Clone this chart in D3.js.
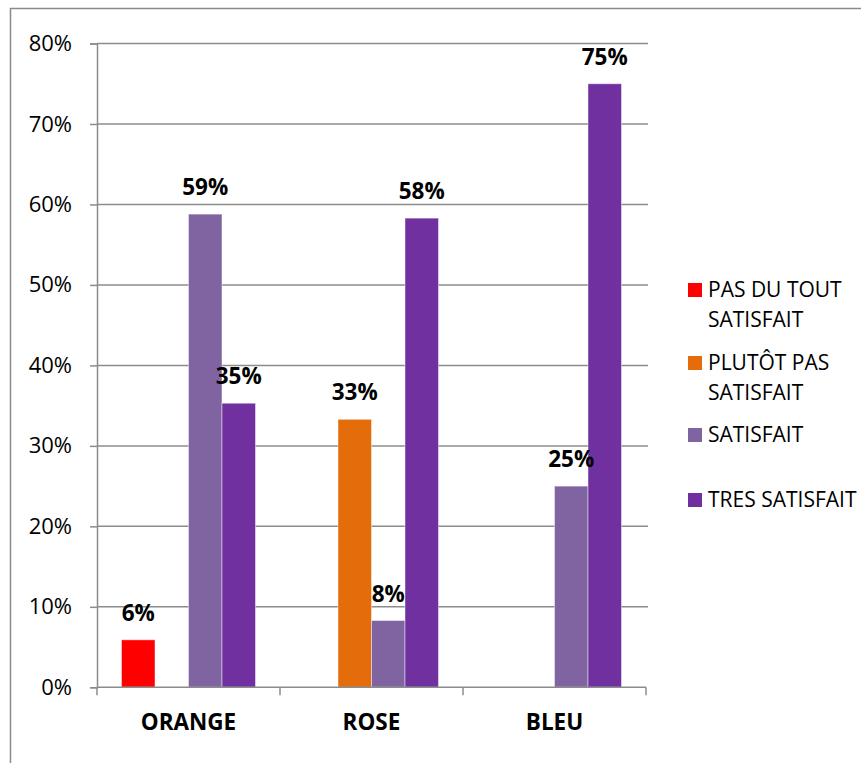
<!DOCTYPE html>
<html>
<head>
<meta charset="utf-8">
<script src="https://cdn.jsdelivr.net/npm/d3@7"></script>
<style>
  html, body { margin: 0; padding: 0; background: #ffffff; }
  svg { display: block; }
  text { font-family: "Open Sans", "DejaVu Sans", sans-serif; fill: #000; }
</style>
</head>
<body>
<svg id="chart" width="861" height="763"></svg>
<script>
// ---- data ----
const categories = ["ORANGE", "ROSE", "BLEU"];
const series = ["PAS DU TOUT SATISFAIT", "PLUTÔT PAS SATISFAIT", "SATISFAIT", "TRES SATISFAIT"];
const legendLines = [["PAS DU TOUT", "SATISFAIT"], ["PLUTÔT PAS", "SATISFAIT"], ["SATISFAIT"], ["TRES SATISFAIT"]];
const pasDuToutSatisfait = [0.059, null, null];
const plutotPasSatisfait = [null, 0.333, null];
const satisfait = [0.588, 0.083, 0.25];
const tresSatisfait = [0.353, 0.583, 0.75];
const yTicks = [0, 0.1, 0.2, 0.3, 0.4, 0.5, 0.6, 0.7, 0.8];
const colors = ["#FF0000", "#E46C0A", "#8064A2", "#7030A0"];

const seriesValues = [pasDuToutSatisfait, plutotPasSatisfait, satisfait, tresSatisfait];

// ---- layout ----
const svg = d3.select("#chart");
const plot = { left: 97, right: 646, top: 43.5, bottom: 687.3, gridRight: 648 };

// outer chart border
svg.append("rect")
  .attr("x", 10.5).attr("y", 8.5)
  .attr("width", 1000).attr("height", 1000)
  .attr("fill", "none").attr("stroke", "#8a8a8a").attr("stroke-width", 1.5);

const y = d3.scaleLinear().domain([0, 0.8]).range([plot.bottom, plot.top]);
const x0 = d3.scaleBand().domain(categories).range([plot.left, plot.right]).padding(0);
const inset = 24.5;
const x1 = d3.scaleBand().domain(series).range([inset, x0.bandwidth() - inset]).padding(0);

// gridlines
svg.append("g")
  .selectAll("line")
  .data(yTicks.filter(d => d > 0))
  .join("line")
  .attr("x1", plot.left).attr("x2", plot.gridRight)
  .attr("y1", d => y(d)).attr("y2", d => y(d))
  .attr("stroke", "#8c8c8c").attr("stroke-width", 1.5);

// y axis
const yAxis = d3.axisLeft(y).tickValues(yTicks).tickFormat(d3.format(".0%")).tickSize(7).tickPadding(18);
const gy = svg.append("g").attr("transform", `translate(${plot.left},0)`).call(yAxis);
gy.select(".domain").attr("stroke", "#8c8c8c").attr("stroke-width", 1.5);
gy.selectAll(".tick line").attr("stroke", "#8c8c8c").attr("stroke-width", 1.5);
gy.selectAll(".tick text")
  .attr("font-size", 22)
  .style("font-family", "'Open Sans', sans-serif")
  .attr("fill", "#000");

// bars
const groups = svg.append("g")
  .selectAll("g")
  .data(categories)
  .join("g")
  .attr("transform", d => `translate(${x0(d)},0)`);

groups.each(function(cat, ci) {
  const g = d3.select(this);
  const items = series.map((s, si) => ({ s, si, v: seriesValues[si][ci] })).filter(d => d.v !== null);
  g.selectAll("rect")
    .data(items)
    .join("rect")
    .attr("x", d => x1(d.s))
    .attr("y", d => y(d.v))
    .attr("width", x1.bandwidth())
    .attr("height", d => y(0) - y(d.v))
    .attr("fill", d => colors[d.si])
    .attr("stroke", "rgba(255,255,255,0.45)")
    .attr("stroke-width", 1);
});

// x axis line and ticks
const xAxis = d3.axisBottom(x0).tickSize(0).tickPadding(0).tickFormat("");
const gx = svg.append("g").attr("transform", `translate(0,${plot.bottom})`).call(xAxis);
gx.select(".domain").remove();
gx.append("line")
  .attr("x1", plot.left).attr("x2", plot.right)
  .attr("stroke", "#8c8c8c").attr("stroke-width", 1.5);
const boundaries = [plot.left].concat(categories.map(c => x0(c) + x0.bandwidth()));
gx.selectAll(".bound")
  .data(boundaries)
  .join("line")
  .attr("class", "bound")
  .attr("x1", d => d).attr("x2", d => d)
  .attr("y1", 0).attr("y2", 8)
  .attr("stroke", "#8c8c8c").attr("stroke-width", 1.5);
gx.selectAll(".tick").remove();
svg.append("g")
  .selectAll("text")
  .data(categories)
  .join("text")
  .attr("x", d => x0(d) + x0.bandwidth() / 2)
  .attr("y", 730)
  .attr("text-anchor", "middle")
  .attr("font-size", 22.5)
  .attr("font-weight", "bold")
  .text(d => d);

// data labels
groups.each(function(cat, ci) {
  const g = d3.select(this);
  const items = series.map((s, si) => ({ s, si, v: seriesValues[si][ci] })).filter(d => d.v !== null);
  g.selectAll("text.lbl")
    .data(items)
    .join("text")
    .attr("class", "lbl")
    .attr("x", d => x1(d.s) + x1.bandwidth() / 2)
    .attr("y", d => y(d.v) - 19)
    .attr("text-anchor", "middle")
    .attr("font-size", 22.5)
    .attr("font-weight", "bold")
    .text(d => d3.format(".0%")(d.v));
});

// legend
const legendBaselines = [297, 370, 442, 507];
const legend = svg.append("g");
series.forEach((s, i) => {
  const base = legendBaselines[i];
  legend.append("rect")
    .attr("x", 688).attr("y", base - 14)
    .attr("width", 14).attr("height", 14)
    .attr("fill", colors[i]);
  const t = legend.append("text")
    .attr("x", 708).attr("y", base)
    .attr("font-size", 21);
  legendLines[i].forEach((line, li) => {
    t.append("tspan").attr("x", 708).attr("y", base + li * 30).text(line);
  });
});
</script>
</body>
</html>
